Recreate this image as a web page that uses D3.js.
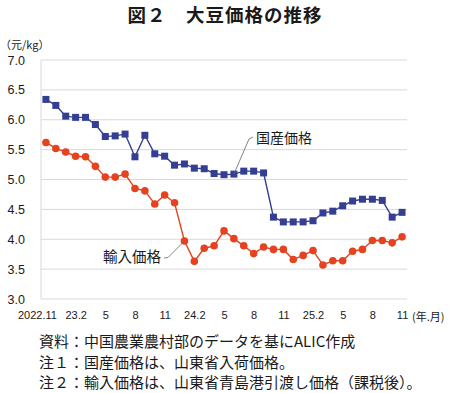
<!DOCTYPE html>
<html><head><meta charset="utf-8">
<script src="https://cdn.jsdelivr.net/npm/d3@7/dist/d3.min.js"></script>
<style>
body{margin:0;background:#fff;}
svg{display:block;}
text{font-family:"Noto Sans CJK JP","Liberation Sans",sans-serif;fill:#1a1a1a;}
.num{font-family:"Liberation Sans",Arial,sans-serif;}
</style></head>
<body>
<script>
const months = d3.range(37).map(i => "m" + i);
const tickLabels = ["2022.11","","","23.2","","","5","","","8","","","11","","","24.2","","","5","","","8","","","11","","","25.2","","","5","","","8","","","11"];
const domestic = [6.34,6.24,6.06,6.04,6.04,5.92,5.72,5.73,5.76,5.38,5.74,5.43,5.39,5.24,5.26,5.19,5.18,5.10,5.08,5.09,5.14,5.14,5.11,4.37,4.29,4.29,4.29,4.31,4.44,4.47,4.56,4.64,4.67,4.67,4.65,4.37,4.45];
const imported = [5.62,5.52,5.46,5.39,5.38,5.22,5.04,5.04,5.09,4.85,4.81,4.59,4.74,4.61,3.97,3.63,3.85,3.89,4.14,4.01,3.89,3.76,3.87,3.83,3.83,3.66,3.73,3.81,3.57,3.64,3.64,3.80,3.83,3.98,3.98,3.94,4.04];
const yTicks = [3.0,3.5,4.0,4.5,5.0,5.5,6.0,6.5,7.0];
const notes = ["資料：中国農業農村部のデータを基にALIC作成","注１：国産価格は、山東省入荷価格。","注２：輸入価格は、山東省青島港引渡し価格（課税後）。"];

const W = 450, H = 393;
const svg = d3.select("body").append("svg").attr("width", W).attr("height", H);
const x = d3.scalePoint().domain(months).range([41, 407]).padding(0.5);
const y = d3.scaleLinear().domain([3, 7]).range([299, 60]);

svg.append("text").attr("x", 225).attr("y", 22).attr("text-anchor", "middle")
  .style("font-size", "18.5px").style("font-weight", "bold").style("letter-spacing", "1px")
  .text("図２　大豆価格の推移");

svg.append("text").attr("x", 0).attr("y", 49).style("font-size", "11px").text("（元/kg）");

// grid
svg.append("g").selectAll("line").data(yTicks).join("line")
  .attr("x1", 41).attr("x2", 407).attr("y1", d => y(d)).attr("y2", d => y(d))
  .attr("stroke", "#d9d9d9").attr("stroke-width", 1);
svg.append("line").attr("x1", 41).attr("x2", 41).attr("y1", y(7)).attr("y2", y(3))
  .attr("stroke", "#d9d9d9");

// y labels
const ya = svg.append("g").attr("transform", "translate(25,0)")
  .call(d3.axisLeft(y).tickValues(yTicks).tickFormat(d3.format(".1f")).tickSize(0).tickPadding(0));
ya.select(".domain").remove();
ya.selectAll("text").attr("class", "num").style("font-size", "12.5px").style("fill", "#1a1a1a");

// x labels
const xa = svg.append("g").attr("transform", "translate(0,311)")
  .call(d3.axisBottom(x).tickFormat((d, i) => tickLabels[i]).tickSize(0).tickPadding(0));
xa.select(".domain").remove();
xa.selectAll("text").attr("class", "num").style("font-size", "11px").style("fill", "#1a1a1a")
  .attr("dx", (d, i) => i === 0 ? "-9px" : 0);
svg.append("text").attr("x", 412).attr("y", 321).style("font-size", "11px").text("(年.月)");

const blue = "#343f93", red = "#e5431f";
const line = d3.line().x((d, i) => x(months[i])).y(d => y(d));
svg.append("path").datum(domestic).attr("d", line).attr("fill", "none").attr("stroke", blue).attr("stroke-width", 1.4);
svg.append("path").datum(imported).attr("d", line).attr("fill", "none").attr("stroke", red).attr("stroke-width", 1.4);
svg.append("g").selectAll("rect").data(domestic).join("rect")
  .attr("x", (d, i) => x(months[i]) - 3.5).attr("y", d => y(d) - 3.5)
  .attr("width", 7).attr("height", 7).attr("fill", blue);
svg.append("g").selectAll("circle").data(imported).join("circle")
  .attr("cx", (d, i) => x(months[i])).attr("cy", d => y(d)).attr("r", 3.8).attr("fill", red);

// series labels
svg.append("path").attr("d", `M${x(months[19])},${y(domestic[19])} L249,139 L253,137`)
  .attr("fill", "none").attr("stroke", "#666").attr("stroke-width", 0.8);
svg.append("text").attr("x", 256).attr("y", 143).style("font-size", "14px").text("国産価格");
svg.append("path").attr("d", `M164,258 L168,257.5 L${x(months[14])},${y(imported[14])}`)
  .attr("fill", "none").attr("stroke", "#666").attr("stroke-width", 0.8);
svg.append("text").attr("x", 103).attr("y", 262).style("font-size", "14.5px").text("輸入価格");

svg.append("g").selectAll("text").data(notes).join("text")
  .attr("x", 39).attr("y", (d, i) => 347 + i * 20.5).style("font-size", "15px").text(d => d);
</script>
</body></html>
